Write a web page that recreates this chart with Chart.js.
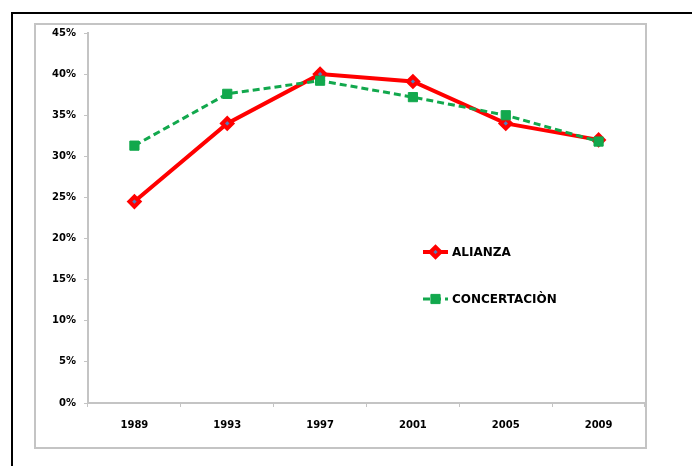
<!DOCTYPE html>
<html>
<head>
<meta charset="utf-8">
<script src="https://cdn.jsdelivr.net/npm/chart.js@4.4.0/dist/chart.umd.min.js"></script>
<style>
  html, body { margin: 0; padding: 0; background: #fff; width: 692px; height: 466px; overflow: hidden; }
  #outer { position: absolute; left: 11px; top: 12px; width: 700px; height: 470px; border: 2px solid #000; box-sizing: border-box; }
  #inner { position: absolute; left: 34px; top: 23px; width: 613px; height: 426px; border: 2px solid #c4c4c4; box-sizing: border-box; }
  #wrap { position: absolute; left: 0; top: 0; width: 692px; height: 466px; }
</style>
</head>
<body>
<div id="outer"></div>
<div id="inner"></div>
<div id="wrap"><canvas id="myChart"></canvas></div>
<script>
const years = ["1989", "1993", "1997", "2001", "2005", "2009"];
const alianza = [24.5, 34.0, 40.0, 39.1, 34.0, 32.0];
const concertacion = [31.3, 37.6, 39.2, 37.2, 35.0, 31.8];
const seriesNames = ["ALIANZA", "CONCERTACIÒN"];

const tickFont = { family: "DejaVu Sans", size: 10, weight: "bold" };

// legend drawn inside the plot, like the original
const insideLegend = {
  id: "insideLegend",
  afterDraw(chart) {
    const ctx = chart.ctx;
    const items = [
      { y: 252, name: seriesNames[0], ds: chart.data.datasets[0] },
      { y: 299, name: seriesNames[1], ds: chart.data.datasets[1] }
    ];
    ctx.save();
    items.forEach(it => {
      ctx.strokeStyle = it.ds.borderColor;
      ctx.lineWidth = it.ds.borderWidth;
      ctx.setLineDash(it.ds.borderDash || []);
      ctx.beginPath();
      ctx.moveTo(423, it.y);
      ctx.lineTo(448, it.y);
      ctx.stroke();
      ctx.setLineDash([]);
      ctx.fillStyle = it.ds.pointBackgroundColor;
      ctx.strokeStyle = it.ds.pointBorderColor;
      ctx.lineWidth = it.ds.pointBorderWidth;
      Chart.helpers.drawPoint(ctx, {
        pointStyle: it.ds.pointStyle,
        radius: it.ds.pointRadius,
        borderWidth: it.ds.pointBorderWidth
      }, 435.5, it.y);
      ctx.fillStyle = "#000";
      ctx.font = "bold 12px 'DejaVu Sans'";
      ctx.textBaseline = "middle";
      ctx.fillText(it.name, 452, it.y + 1);
    });
    ctx.restore();
  }
};

new Chart(document.getElementById("myChart"), {
  type: "line",
  data: {
    labels: years,
    datasets: [
      {
        label: seriesNames[0],
        data: alianza,
        order: 1,
        borderColor: "#ff0000",
        borderWidth: 4,
        pointStyle: "rectRot",
        pointRadius: 5,
        pointBackgroundColor: "#4f81bd",
        pointBorderColor: "#ff0000",
        pointBorderWidth: 4,
        tension: 0
      },
      {
        label: seriesNames[1],
        data: concertacion,
        order: 0,
        borderColor: "#12a84d",
        borderWidth: 3,
        borderDash: [7, 4],
        pointStyle: "rect",
        pointRadius: 6.5,
        pointBackgroundColor: "#12a84d",
        pointBorderColor: "#12a84d",
        pointBorderWidth: 1,
        tension: 0
      }
    ]
  },
  options: {
    responsive: true,
    maintainAspectRatio: false,
    animation: false,
    layout: { padding: { left: 0, right: 47, top: 33, bottom: 0 } },
    plugins: {
      legend: { display: false },
      tooltip: { enabled: false }
    },
    scales: {
      x: {
        offset: true,
        grid: { offset: true, drawOnChartArea: false, color: "#c4c4c4", tickLength: 4 },
        border: { color: "#c4c4c4", width: 2 },
        ticks: { color: "#000", font: tickFont, padding: 12, maxRotation: 0 },
        afterFit(axis) { axis.height = 63; }
      },
      y: {
        min: 0,
        max: 45,
        grid: { drawOnChartArea: false, color: "#c4c4c4", tickLength: 4 },
        border: { color: "#c4c4c4", width: 2 },
        ticks: {
          stepSize: 5,
          color: "#000",
          font: tickFont,
          padding: 8,
          callback: v => v + "%"
        },
        afterFit(axis) { axis.width = 88; }
      }
    }
  },
  plugins: [insideLegend]
});
</script>
</body>
</html>
